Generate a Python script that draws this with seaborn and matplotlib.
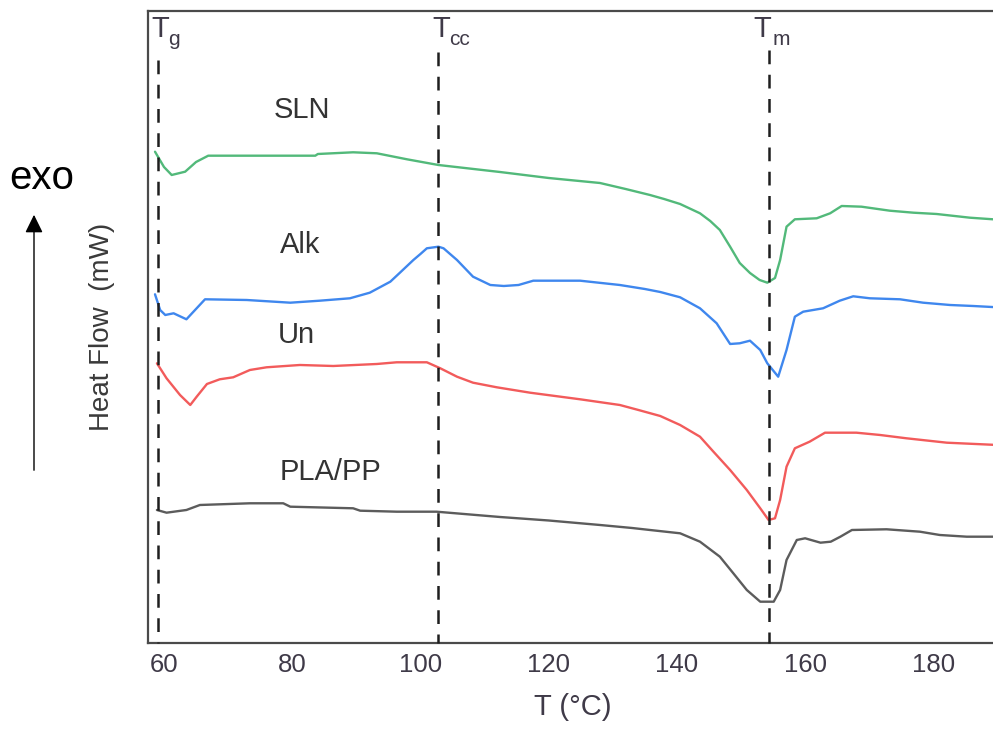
import matplotlib
matplotlib.use("Agg")
import matplotlib.pyplot as plt
from matplotlib.patches import FancyArrowPatch
from matplotlib.ticker import MultipleLocator, NullLocator
import pandas as pd
import seaborn as sns

# ---------------- DSC traces (heat flow, arbitrary offset units) ----------------
sln_T = [58.6, 60.0, 61.2, 63.3, 65.0, 66.9, 83.6, 84.0, 89.5, 93.2, 97.9, 102.8, 112.4,
         120.0, 128.0, 132.0, 135.8, 138.0, 140.5, 143.6, 145.2, 146.7, 148.3, 149.8,
         151.4, 152.9, 154.1, 155.3, 156.1, 157.1, 158.4, 161.8, 163.9, 165.7, 168.8,
         173.2, 176.9, 180.5, 185.7, 189.3, 190.0]
sln_hf = [49.13, 47.6, 46.8, 47.13, 48.1, 48.73, 48.73, 48.9, 49.07, 48.97, 48.37, 47.8, 47.1,
          46.5, 46.0, 45.4, 44.8, 44.4, 43.9, 42.97, 42.2, 41.3, 39.63, 38.0,
          37.0, 36.3, 36.03, 36.5, 38.3, 41.63, 42.37, 42.47, 42.97, 43.7, 43.63,
          43.23, 43.03, 42.9, 42.53, 42.37, 42.35]

alk_T = [58.6, 59.4, 60.2, 61.5, 63.5, 64.6, 66.4, 72.9, 79.7, 84.3, 89.0, 92.1, 95.3,
         96.8, 98.9, 100.0, 101.0, 102.8, 103.6, 104.8, 105.7, 108.2, 110.9, 113.0, 115.3,
         117.6, 124.9, 131.1, 135.0, 137.4, 140.5, 143.6, 146.2, 148.3, 149.8, 151.4,
         153.0, 154.1, 155.8, 157.1, 158.4, 159.7, 162.8, 165.4, 167.5, 170.1, 174.8,
         178.4, 182.6, 186.2, 190.0]
alk_hf = [34.87, 33.3, 32.8, 32.97, 32.37, 33.13, 34.37, 34.3, 34.03, 34.23, 34.47, 35.03,
          36.13, 37.03, 38.3, 38.9, 39.47, 39.63, 39.47, 38.8, 38.3, 36.63, 35.8, 35.7, 35.8,
          36.23, 36.23, 35.8, 35.4, 35.1, 34.57, 33.47, 31.97, 29.9, 29.97, 30.23,
          29.3, 27.97, 26.63, 29.3, 32.63, 33.13, 33.47, 34.23, 34.67, 34.47, 34.37,
          34.03, 33.8, 33.7, 33.57]

un_T = [58.9, 60.4, 62.5, 64.1, 65.1, 66.7, 68.7, 70.8, 73.4, 76.0, 81.2, 86.4, 93.2,
        96.3, 101.0, 103.1, 105.7, 108.2, 111.9, 117.1, 124.9, 131.1, 134.0, 137.4,
        140.5, 143.6, 145.7, 148.3, 150.9, 153.0, 154.3, 155.3, 156.1, 157.1, 158.4,
        160.7, 163.1, 168.0, 171.7, 175.8, 182.1, 190.0]
un_hf = [27.97, 26.47, 24.8, 23.8, 24.63, 25.9, 26.37, 26.57, 27.3, 27.57, 27.8, 27.7, 27.9,
         28.07, 28.07, 27.47, 26.63, 26.03, 25.57, 25.03, 24.37, 23.8, 23.3, 22.7,
         21.8, 20.63, 19.13, 17.3, 15.3, 13.47, 12.3, 12.47, 14.3, 17.63, 19.47,
         20.13, 21.03, 21.03, 20.8, 20.47, 20.03, 19.8]

plapp_T = [58.9, 60.4, 63.5, 65.6, 73.4, 78.6, 79.7, 89.5, 90.6, 96.3, 102.5, 112.4, 120.0,
           128.0, 133.0, 135.8, 140.5, 143.6, 146.7, 148.8, 150.9, 153.0, 155.1, 156.1,
           157.1, 158.7, 160.0, 162.4, 164.0, 165.5, 167.3, 172.7, 177.9, 181.0, 185.2,
           190.0]
plapp_hf = [13.3, 13.03, 13.3, 13.8, 13.97, 13.97, 13.63, 13.47, 13.23, 13.13, 13.13, 12.6,
            12.25, 11.8, 11.5, 11.3, 10.97, 10.13, 8.63, 6.97, 5.3, 4.13, 4.13, 5.3,
            8.3, 10.3, 10.47, 10.03, 10.13, 10.63, 11.3, 11.37, 11.13, 10.8, 10.63, 10.63]

samples = ["SLN", "Alk", "Un", "PLA/PP"]
colors = ["#52b97a", "#3f87ee", "#f25b5b", "#5c5c5c"]

# characteristic temperatures (°C)
transitions = {"g": 59.1, "cc": 102.7, "m": 154.4}

# ---------------- long-form table ----------------
frames = []
for name, T, hf in zip(samples, [sln_T, alk_T, un_T, plapp_T],
                       [sln_hf, alk_hf, un_hf, plapp_hf]):
    frames.append(pd.DataFrame({"T": T, "hf": hf, "sample": name}))
df = pd.concat(frames, ignore_index=True)

# ---------------- style ----------------
sns.set_style("white")
plt.rcParams["font.family"] = ["Liberation Sans", "DejaVu Sans"]
spine_col = "#4a4a4a"
tick_col = "#3f3a48"

fig = plt.figure(figsize=(9.93, 7.33), dpi=100)
ax = fig.add_axes([0.149, 0.1228, 0.8555, 0.8622])

sns.lineplot(data=df, x="T", y="hf", hue="sample", hue_order=samples,
             palette=dict(zip(samples, colors)), sort=False, estimator=None,
             legend=False, linewidth=1.7, ax=ax)
for line in ax.get_lines():
    line.set_solid_joinstyle("round")

ax.set_xlim(57.5, 190.0)
ax.set_ylim(0, 63.2)

# dashed transition markers
tops = {"g": 58.3, "cc": 59.1, "m": 59.3}
for key, xv in transitions.items():
    ax.plot([xv, xv], [tops[key], 0], color="#1e1e1e", lw=1.8,
            dashes=(5.5, 4.2), dash_capstyle="butt",
            clip_on=False, zorder=3)

# transition symbols: T with subscript
sym_pos = {"g": (58.08, 60.62), "cc": (101.8, 104.45), "m": (151.92, 154.95)}
for key, (xt, xs) in sym_pos.items():
    ax.text(xt, 60.63, "T", fontsize=21, color=tick_col, ha="left", va="baseline",
            clip_on=False)
    ax.text(xs, 59.8, key, fontsize=15, color=tick_col, ha="left", va="baseline",
            clip_on=False)

# curve labels
label_pos = {"SLN": (81.5, 52.47), "Alk": (81.2, 38.97), "Un": (80.6, 30.0),
             "PLA/PP": (86.0, 16.3)}
for name, (xl, yl) in label_pos.items():
    ax.text(xl, yl, name, fontsize=21, color="#333333", ha="center", va="baseline")

# axes cosmetics
for side in ["left", "bottom", "top", "right"]:
    ax.spines[side].set_color(spine_col)
    ax.spines[side].set_linewidth(1.6)

ax.xaxis.set_major_locator(MultipleLocator(20))
ax.xaxis.set_minor_locator(MultipleLocator(10))
ax.yaxis.set_major_locator(NullLocator())
ax.tick_params(axis="x", which="major", direction="in", length=8.6, width=1.5,
               color=spine_col, labelsize=18.5, labelcolor=tick_col, pad=7)
ax.tick_params(axis="x", which="minor", direction="in", length=5, width=1.5,
               color=spine_col)
ax.tick_params(axis="x", top=False)

ax.set_xlabel("T (°C)", fontsize=21, color=tick_col, labelpad=12)
ax.set_ylabel("Heat Flow  (mW)", fontsize=20, color="#3a3a3a", labelpad=24)

# exo direction arrow
fig.text(42 / 993, 1 - 189 / 733, "exo", fontsize=29, color="black",
         ha="center", va="baseline")
arrow = FancyArrowPatch((34 / 993, 1 - 473 / 733), (34 / 993, 1 - 212 / 733),
                        transform=fig.transFigure,
                        arrowstyle="-|>,head_length=0.55,head_width=0.27",
                        mutation_scale=20, color="black", lw=1.0)
fig.add_artist(arrow)

fig.savefig("out.png", dpi=100)
